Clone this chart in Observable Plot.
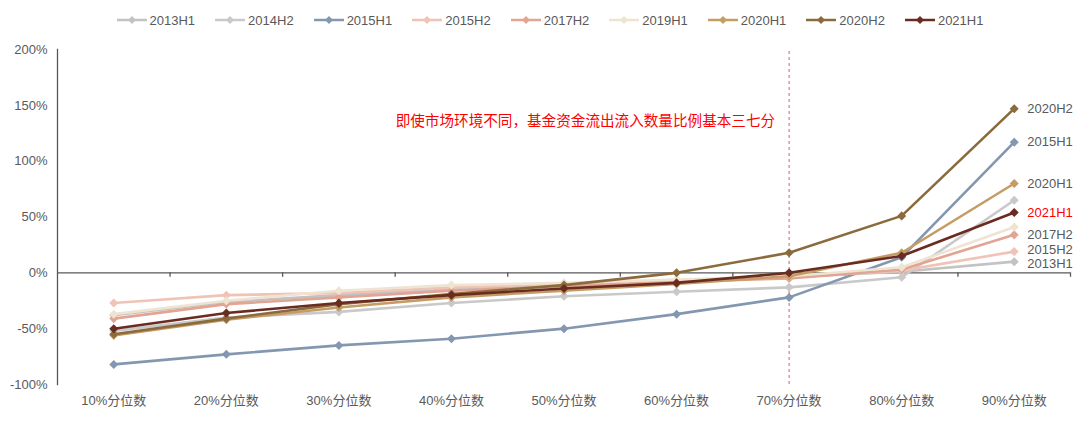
<!DOCTYPE html>
<html>
<head>
<meta charset="utf-8">
<script src="https://cdn.jsdelivr.net/npm/d3@7"></script>
<script src="https://cdn.jsdelivr.net/npm/@observablehq/plot@0.6"></script>
<style>
  html, body { margin: 0; padding: 0; background: #fff; }
  body { width: 1080px; height: 422px; overflow: hidden; font-family: "Liberation Sans", Arial, "Noto Sans CJK SC", sans-serif; }
  #legend { height: 40px; display: flex; justify-content: center; align-items: center; gap: 20px; font-size: 13px; color: #595959; padding-left: 20px; box-sizing: border-box; }
  .item { display: flex; align-items: center; gap: 3px; }
  #chart svg { display: block; }
</style>
</head>
<body>
<div id="legend"></div>
<div id="chart"></div>
<script>
const categories = ["10%分位数","20%分位数","30%分位数","40%分位数","50%分位数","60%分位数","70%分位数","80%分位数","90%分位数"];
const seriesNames = ["2013H1","2014H2","2015H1","2015H2","2017H2","2019H1","2020H1","2020H2","2021H1"];
const v2013H1 = [-38, -26, -20, -15, -11, -8, -4, 1, 10];
const v2014H2 = [-52, -40, -35, -27, -21, -17, -13, -4, 65];
const v2015H1 = [-82, -73, -65, -59, -50, -37, -22, 14, 117];
const v2015H2 = [-27, -20, -18, -13, -10, -7, -4, 2, 19];
const v2017H2 = [-41, -28, -22, -16, -12, -8, -5, 3, 34];
const v2019H1 = [-37, -25, -16, -11, -9, -6, -3, 5, 41];
const v2020H1 = [-56, -42, -31, -22, -16, -10, -3, 18, 80];
const v2020H2 = [-55, -41, -28, -19, -11, 0, 18, 51, 147];
const v2021H1 = [-50, -36, -27, -20, -14, -9, 0, 15, 54];
const yTicks = [-100, -50, 0, 50, 100, 150, 200];
const labelled = ["2013H1","2015H1","2015H2","2017H2","2020H1","2020H2","2021H1"];
const highlight = "2021H1";
const annotation = [{cat: "70%分位数", y: 136, text: "即使市场环境不同，基金资金流出流入数量比例基本三七分"}];
const dashedAt = ["70%分位数"];

const allValues = [v2013H1, v2014H2, v2015H1, v2015H2, v2017H2, v2019H1, v2020H1, v2020H2, v2021H1];
const colors = ["#c3c3c3","#c9c9c9","#8497b0","#f0c3b6","#e2a493","#efe4d2","#c69c65","#8b6a3c","#6a2c20"];

const rows = seriesNames.flatMap((s, k) => allValues[k].map((v, i) => ({series: s, i, v})));
const idx = c => categories.indexOf(c);
const boundaries = categories.map((_, i) => i + 0.5);

const squareDiamond = {
  draw(ctx, size) {
    const r = Math.sqrt(size / 2);
    ctx.moveTo(0, -r); ctx.lineTo(r, 0); ctx.lineTo(0, r); ctx.lineTo(-r, 0); ctx.closePath();
  }
};

// legend
const legend = document.getElementById("legend");
seriesNames.forEach((s, k) => {
  const it = document.createElement("div");
  it.className = "item";
  it.innerHTML = `<svg width="30" height="10"><line x1="0" y1="5" x2="30" y2="5" stroke="${colors[k]}" stroke-width="2.5"/><path d="M15,1 L19,5 L15,9 L11,5 Z" fill="${colors[k]}"/></svg><span>${s}</span>`;
  legend.appendChild(it);
});

const marks = [
  Plot.frame({anchor: "left", stroke: "#595959", strokeWidth: 1.3}),
  Plot.ruleY([0], {stroke: "#595959", strokeWidth: 1.3}),
  Plot.ruleX(boundaries, {x: d => d, y1: 0, y2: -4, stroke: "#595959", strokeWidth: 1.3}),
  Plot.ruleX(dashedAt, {x: d => idx(d), y1: -100, y2: 200, stroke: "#e05a5f", strokeWidth: 1, strokeDasharray: "3,3"}),
  Plot.axisY({ticks: yTicks, tickSize: 0, tickPadding: 10, tickFormat: d => d + "%", fontSize: 13, fill: "#595959", label: null}),
  Plot.axisX({ticks: categories.map((_, i) => i), tickSize: 0, tickPadding: 11, tickFormat: i => categories[i], fontSize: 13, fill: "#595959", label: null}),
];
seriesNames.forEach(s => {
  const d = rows.filter(r => r.series === s);
  marks.push(Plot.line(d, {x: "i", y: "v", stroke: "series", strokeWidth: 2.6}));
  marks.push(Plot.dot(d, {x: "i", y: "v", fill: "series", symbol: squareDiamond, r: 3.6}));
});
const endRows = rows.filter(r => r.i === categories.length - 1 && labelled.includes(r.series));
const nudge = {"2015H2": -2, "2013H1": 2};
for (const r of endRows) {
  marks.push(Plot.text([r], {
    x: "i", y: "v", text: "series", dx: 13, dy: nudge[r.series] || 0, textAnchor: "start", fontSize: 13,
    fill: r.series === highlight ? "#ff0000" : "#595959"
  }));
}
marks.push(Plot.text(annotation, {x: d => idx(d.cat), y: "y", text: "text", dx: -14, textAnchor: "end", fontSize: 14.6, fill: "#ff0000"}));

const chart = Plot.plot({
  width: 1080,
  height: 382,
  marginTop: 9,
  marginBottom: 38,
  marginLeft: 57,
  marginRight: 10,
  style: {fontFamily: '"Liberation Sans", Arial, "Noto Sans CJK SC", sans-serif', background: "#fff"},
  x: {type: "linear", domain: [-0.5, categories.length - 0.5]},
  y: {domain: [-100, 200]},
  color: {domain: seriesNames, range: colors},
  marks
});
document.getElementById("chart").appendChild(chart);
</script>
</body>
</html>
